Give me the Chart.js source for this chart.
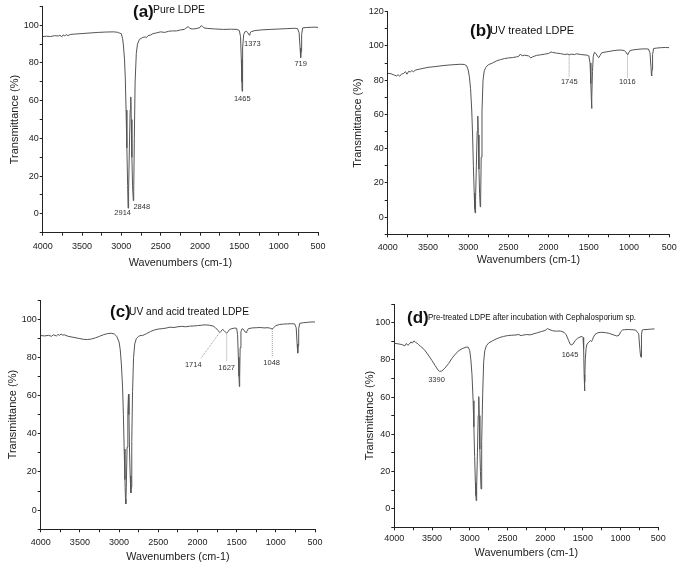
<!DOCTYPE html>
<html>
<head>
    <title>FTIR spectra of LDPE</title>
    <script src="https://cdn.jsdelivr.net/npm/chart.js"></script>
    <style>
        body { margin: 0; background: #fff; }
        #wrap { position: relative; width: 685px; height: 571px; }
        canvas { position: absolute; }
    </style>
</head>
<body>
<div id="wrap">
    <canvas id="chartA" width="342" height="285" style="left:0;top:0"></canvas>
    <canvas id="chartB" width="343" height="285" style="left:342px;top:0"></canvas>
    <canvas id="chartC" width="342" height="286" style="left:0;top:285px"></canvas>
    <canvas id="chartD" width="343" height="286" style="left:342px;top:285px"></canvas>
</div>

<script>
    // (a) Pure LDPE
    const aWn = [4000,3950,3900,3850,3800,3780,3760,3740,3720,3700,3680,3650,3600,3500,3400,3300,3200,3100,3050,3020,
        3000,2985,2975,2960,2950,2940,2930,2920,2914,2908,2898,2888,2880,2874,2866,2858,2848,2843,2835,2825,2810,2795,2770,
        2730,2700,2680,2660,2630,2600,2550,2500,2450,2400,2350,2300,2250,2200,2170,2150,2130,2100,2050,2000,1985,1970,1950,
        1900,1800,1700,1600,1530,1500,1485,1475,1468,1465,1462,1455,1445,1430,1410,1390,1380,1373,1365,1350,1300,1200,1100,
        1000,900,800,760,740,728,722,719,715,708,695,650,600,550,500];
    const aT = [94.0,94.2,94.0,94.5,94.3,94.8,93.8,94.9,94.4,95.0,94.5,95.1,95.3,95.6,95.9,96.2,96.4,96.5,96.3,95.8,
        95.5,93,90,82,72,55,35,15,3,12,35,55,62,50,30,15,7,12,40,70,85,90,92.5,
        93.5,93.8,93.5,94.5,94.8,95.5,96,96.5,96.2,96.8,97.0,97.0,97.5,97.8,98.8,99.3,98.4,98.0,98.2,98.8,99.8,99.5,98.6,
        98.3,98.0,97.8,97.9,97.8,97.2,94,82,70,65,72,88,95,96.5,96.8,96,95,94.8,95.8,96.6,97.2,97.6,97.8,
        98,98.2,98.4,98.2,96,88,83,82.8,86,95,98.6,98.8,98.9,99,98.9];
    const aLabels = ['2914','2848','1465','1373','719'];
    const aLabelWn = [2983,2741,1463,1335,720];
    const aLabelT = [0.7,3.7,61,89.9,79.3];

    // (b) UV treated LDPE
    const bWn = [4000,3960,3920,3890,3870,3850,3830,3800,3780,3760,3740,3720,3700,3680,3650,3600,3550,3500,3400,3300,3200,3100,3050,3020,
        3000,2985,2970,2955,2945,2935,2925,2918,2914,2908,2898,2888,2880,2874,2866,2858,2850,2845,2838,2828,2815,2800,2780,2750,
        2700,2650,2600,2550,2500,2450,2400,2370,2350,2330,2300,2250,2220,2200,2150,2100,2050,2000,1970,1950,1900,1850,1800,
        1760,1745,1720,1680,1650,1600,1560,1520,1500,1485,1475,1468,1465,1462,1455,1445,1430,1410,1390,1375,1360,1340,1300,
        1250,1200,1150,1100,1060,1040,1025,1016,1005,990,950,900,850,800,760,740,728,722,719,715,708,695,650,600,550,500];
    const bT = [84.0,83.8,83.0,82.5,83.2,82.3,83.5,84.0,85.0,83.5,85.2,84.8,85.6,85.0,86.0,86.5,87.0,87.5,88.0,88.6,89.0,89.3,89.2,88.5,
        86,82,75,62,48,30,14,5,2.5,10,30,50,59,48,28,14,6,10,35,62,80,85.5,87.5,89,
        90,91.2,92,92.6,93,93.2,93.6,94,95.3,94.2,94.6,94.2,93.0,93.6,94.5,94.8,95.2,95.6,96.5,96.2,95.8,95.5,95.0,
        95.3,94.8,95.2,95.0,95.4,95.0,94.8,94.6,94.2,90,78,68,63.5,70,85,94,96.3,95.5,93.8,93.2,94.5,96,96.4,
        96.8,97.2,97.5,97.6,97.3,96.5,95.3,95,96,97.2,97.7,98.0,98.2,98.3,98.2,96,88,83,82.5,86,95,98.5,98.8,99.0,99.1,99.0];
    const bLabels = ['1745','1016'];
    const bLabelWn = [1743,1022];
    const bLabelT = [78.8,78.8];
    const bLines = [[1745,94.5,1745,81.5],[1020,95,1020,81.5]];

    // (c) UV and acid treated LDPE
    const cWn = [4000,3950,3900,3860,3840,3800,3780,3760,3740,3720,3700,3650,3600,3550,3500,3450,3400,3350,3300,3250,3200,3150,3100,3060,3030,
        3000,2985,2970,2955,2945,2935,2925,2918,2914,2908,2898,2888,2880,2874,2866,2858,2850,2845,2838,2828,2815,2800,2780,2750,
        2720,2700,2670,2650,2600,2550,2500,2450,2400,2350,2300,2250,2200,2150,2100,2050,2000,1950,1900,1850,1800,1770,1740,
        1714,1700,1680,1660,1640,1627,1615,1590,1560,1530,1500,1488,1478,1470,1465,1461,1455,1445,1430,1410,1395,1380,1370,
        1350,1300,1250,1200,1150,1100,1070,1048,1030,1000,950,900,850,800,760,740,728,722,719,715,708,695,650,600,550,500];
    const cT = [91.4,91.2,91.5,91.0,91.8,91.2,92.0,91.5,92.2,91.6,91.8,91.0,90.6,90.2,89.8,89.4,89.3,89.6,90.2,91,91.8,92.4,92.6,92.2,91,
        88,84,76,64,50,32,16,6,3.3,12,33,52,60.7,50,30,18,9,12,36,62,80,87,89.8,91,
        91.5,91.4,92,92.4,93.5,94.3,94.8,95,95.3,95.8,95.6,96.0,96.2,96.0,96.3,96.4,96.6,96.8,97.0,96.8,96.4,95.5,94.2,
        93.0,93.6,94.6,94.0,93.0,92.6,93.2,94.6,95.0,95.3,95.2,92,80,70,64.7,70,85,93.5,95,94.5,93.4,93,93.6,
        95,95.4,95.5,95.6,95.4,95.5,95.2,94.8,95.4,96.6,97.2,97.4,97.5,97.6,97.5,95.5,87,83,82.2,86,95,97.8,98.1,98.3,98.5,98.5];
    const cLabels = ['1714','1627','1048'];
    const cLabelWn = [2053,1627,1053];
    const cLabelT = [76,74.3,77];
    const cLines = [[1725,92.5,1955,79.5],[1627,92.5,1627,77.8],[1045,94.8,1045,80]];

    // (d) Pre-treated LDPE after incubation with Cephalosporium sp.
    const dWn = [4000,3950,3900,3860,3840,3820,3800,3780,3760,3740,3720,3700,3680,3650,3600,3550,3500,3460,3420,3400,3370,3330,3280,3240,3200,3150,3100,3050,3020,
        3000,2985,2970,2955,2945,2935,2925,2918,2914,2908,2898,2888,2880,2874,2866,2858,2850,2845,2838,2828,2815,2800,2780,2750,
        2700,2650,2600,2550,2500,2450,2400,2350,2320,2300,2250,2200,2150,2100,2050,2000,1970,1950,1900,1850,1800,1750,1720,1690,
        1670,1655,1630,1600,1570,1540,1510,1498,1490,1483,1478,1474,1468,1458,1445,1420,1400,1385,1373,1360,1340,1300,1250,1200,1150,
        1100,1050,1021,1000,975,950,900,850,800,760,745,735,728,725,721,714,700,650,600,550,500];
    const dT = [88.9,88.6,88.2,87.5,88.8,87.8,88.5,89.6,89.0,90.2,89.4,89.0,88.2,87.2,85.4,82.6,79.6,77,74.5,73.8,74,75.5,78,80.6,82.6,84.8,86.0,86.8,86.8,
        85,80,72,58,44,28,14,7,4.3,12,30,50,60.2,50,32,20,10.6,13,36,62,79,85,87.5,89,
        90.2,91.2,92.0,92.6,93.0,93.2,93.3,93.6,93.0,93.2,93.6,93.4,94,94.6,95.2,95.8,96.8,96.4,95.6,95.4,95.5,94.8,93.4,90.5,
        88.5,88,88.5,90.5,91.6,92.2,92.6,92,86,72,63.3,68,80,86,88.5,89.5,90.4,89.8,90.8,92.2,93.6,94.6,94.8,94.6,
        94.2,93.5,92.8,93.2,95,96,96.2,96.3,96.2,96,94,86,82,81.4,85,93.5,96,96.2,96.3,96.5,96.6];
    const dLabels = ['3390','1645'];
    const dLabelWn = [3440,1671];
    const dLabelT = [69.2,82.6];

    const FONT = "'Liberation Sans', Arial, sans-serif";

    // panel captions and peak labels
    const panelText = {
        id: 'panelText',
        afterDraw(chart, args, opts) {
            const ctx = chart.ctx;
            const xs = chart.scales.x, ys = chart.scales.y;
            ctx.save();
            // dotted guide lines
            ctx.strokeStyle = '#999';
            ctx.lineWidth = 1;
            ctx.setLineDash([1, 1]);
            (opts.lines || []).forEach(l => {
                ctx.beginPath();
                ctx.moveTo(xs.getPixelForValue(l[0]), ys.getPixelForValue(l[1]));
                ctx.lineTo(xs.getPixelForValue(l[2]), ys.getPixelForValue(l[3]));
                ctx.stroke();
            });
            ctx.setLineDash([]);
            // peak labels
            ctx.fillStyle = '#333';
            ctx.font = '7.5px ' + FONT;
            ctx.textAlign = 'center';
            ctx.textBaseline = 'middle';
            (opts.labels || []).forEach((t, i) => {
                ctx.fillText(t, xs.getPixelForValue(opts.labelWn[i]), ys.getPixelForValue(opts.labelT[i]));
            });
            // caption
            ctx.textAlign = 'left';
            ctx.fillStyle = '#111';
            ctx.font = 'bold 17px ' + FONT;
            ctx.fillText(opts.tag, opts.tagX, opts.tagY);
            ctx.font = opts.subSize + 'px ' + FONT;
            ctx.fillText(opts.sub, opts.subX, opts.subY, opts.subW);
            ctx.restore();
        }
    };

    function makeChart(id, wn, tr, p) {
        const ctx = document.getElementById(id).getContext('2d');
        const points = wn.map((w, i) => ({ x: w, y: tr[i] }));
        return new Chart(ctx, {
            type: 'line',
            data: {
                datasets: [{
                    data: points,
                    borderColor: '#555',
                    borderWidth: 1,
                    pointRadius: 0,
                    tension: 0
                }]
            },
            options: {
                responsive: false,
                animation: false,
                devicePixelRatio: 1,
                layout: { padding: { top: p.top, right: p.right, bottom: 0, left: 0 } },
                plugins: {
                    legend: { display: false },
                    tooltip: { enabled: false },
                    panelText: p.text
                },
                scales: {
                    x: {
                        type: 'linear',
                        reverse: true,
                        min: 500,
                        max: 4000,
                        afterFit: s => { s.height = p.xh; },
                        border: { color: '#222', width: 1 },
                        grid: { drawOnChartArea: false, drawTicks: true, tickLength: 3, color: '#222' },
                        ticks: {
                            stepSize: 250,
                            autoSkip: false,
                            maxRotation: 0,
                            padding: p.xtp,
                            color: '#222',
                            font: { family: FONT, size: 9 },
                            callback: v => (v % 500 === 0 ? v : '')
                        },
                        title: {
                            display: true,
                            text: 'Wavenumbers (cm-1)',
                            color: '#222',
                            font: { family: FONT, size: 10.8 },
                            padding: { top: 0, bottom: p.xtb }
                        }
                    },
                    y: {
                        min: -10,
                        max: p.ymax,
                        afterFit: s => { s.width = p.yw; },
                        border: { color: '#222', width: 1 },
                        grid: { drawOnChartArea: false, drawTicks: true, tickLength: 3, color: '#222' },
                        ticks: {
                            stepSize: 10,
                            padding: 1,
                            color: '#222',
                            font: { family: FONT, size: 9 },
                            callback: v => (v >= 0 && v % 20 === 0 ? v : '')
                        },
                        title: {
                            display: true,
                            text: 'Transmittance (%)',
                            color: '#222',
                            font: { family: FONT, size: 11 },
                            padding: { top: p.ytp, bottom: 0 }
                        }
                    }
                }
            },
            plugins: [panelText]
        });
    }

    makeChart('chartA', aWn, aT, {
        top: 5, right: 24, xh: 52.3, yw: 42.7, ymax: 110, xtp: 5, xtb: 15.7, ytp: 8.4,
        text: { tag: '(a)', tagX: 133, tagY: 12, sub: 'Pure LDPE', subX: 153, subY: 10, subSize: 11, subW: 52,
            labels: aLabels, labelWn: aLabelWn, labelT: aLabelT, lines: [] }
    });
    makeChart('chartB', bWn, bT, {
        top: 11.7, right: 15.7, xh: 50.7, yw: 45.7, ymax: 120, xtp: 5, xtb: 18.4, ytp: 9.7,
        text: { tag: '(b)', tagX: 128, tagY: 31, sub: 'UV treated LDPE', subX: 148, subY: 31, subSize: 11, subW: 84,
            labels: bLabels, labelWn: bLabelWn, labelT: bLabelT, lines: bLines }
    });
    makeChart('chartC', cWn, cT, {
        top: 15, right: 27, xh: 41.7, yw: 40.7, ymax: 110, xtp: 5, xtb: 7.7, ytp: 6.7,
        text: { tag: '(c)', tagX: 110, tagY: 27, sub: 'UV and acid treated LDPE', subX: 129, subY: 27, subSize: 11, subW: 120,
            labels: cLabels, labelWn: cLabelWn, labelT: cLabelT, lines: cLines }
    });
    makeChart('chartD', dWn, dT, {
        top: 19, right: 26.7, xh: 43.7, yw: 52.3, ymax: 110, xtp: 3, xtb: 11.5, ytp: 21.4,
        text: { tag: '(d)', tagX: 65, tagY: 33, sub: 'Pre-treated LDPE after incubation with Cephalosporium sp.', subX: 86, subY: 32, subSize: 9.5, subW: 208,
            labels: dLabels, labelWn: dLabelWn, labelT: dLabelT, lines: [] }
    });
</script>
</body>
</html>
